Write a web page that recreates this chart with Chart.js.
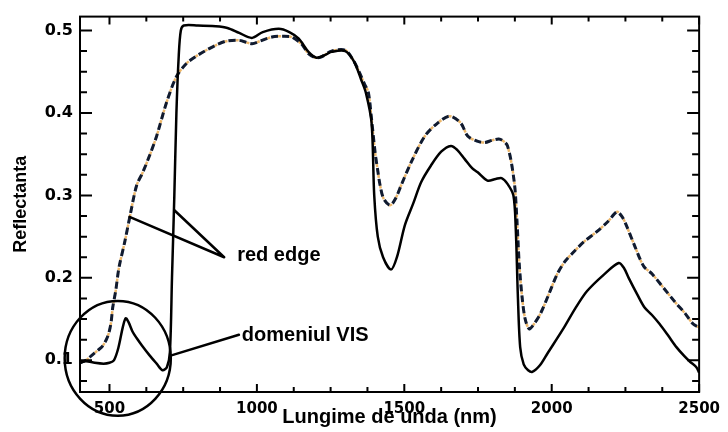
<!DOCTYPE html>
<html>
<head>
<meta charset="utf-8">
<script src="https://cdn.jsdelivr.net/npm/chart.js@4.4.0/dist/chart.umd.min.js"></script>
<style>
  html, body { margin: 0; padding: 0; background: #fff; }
  #wrap { width: 728px; height: 432px; }
</style>
</head>
<body>
<div id="wrap"><canvas id="chart" width="728" height="432"></canvas></div>
<script>
// solid curve: wavelength (nm) and reflectance
const solidNm = [400, 420, 450, 480, 500, 515, 530, 545, 555, 565, 578, 592, 610, 636, 660, 680, 695, 705,
    712, 720, 727, 735, 742, 752, 800, 860, 900, 940, 983, 1020, 1074, 1110, 1142, 1175, 1202, 1230, 1253,
    1300, 1330, 1354, 1370, 1389, 1398, 1410, 1428, 1455, 1475, 1502, 1530, 1557, 1590, 1625, 1658, 1680,
    1705, 1730, 1749, 1782, 1810, 1830, 1850, 1870, 1878, 1885, 1893, 1905, 1920, 1934, 1960, 1985, 2042,
    2080, 2120, 2177, 2227, 2245, 2261, 2290, 2315, 2340, 2366, 2395, 2423, 2450, 2470, 2490, 2500]
const solidRefl = [0.097, 0.099, 0.097, 0.096, 0.097, 0.100, 0.115, 0.140, 0.151, 0.146, 0.135, 0.127, 0.118,
    0.106, 0.096, 0.088, 0.092, 0.110, 0.200, 0.300, 0.400, 0.470, 0.500, 0.506, 0.506, 0.505, 0.503, 0.497,
    0.491, 0.498, 0.502, 0.498, 0.490, 0.474, 0.467, 0.470, 0.474, 0.475, 0.462, 0.440, 0.424, 0.388, 0.300,
    0.250, 0.225, 0.210, 0.225, 0.264, 0.290, 0.316, 0.336, 0.353, 0.360, 0.355, 0.344, 0.333, 0.328, 0.318,
    0.320, 0.321, 0.314, 0.300, 0.260, 0.180, 0.116, 0.095, 0.088, 0.086, 0.094, 0.108, 0.140, 0.163, 0.184,
    0.204, 0.218, 0.212, 0.200, 0.180, 0.164, 0.155, 0.144, 0.130, 0.116, 0.105, 0.098, 0.092, 0.085]

// dashed curve
const dashNm = [400, 420, 440, 460, 478, 495, 505, 511, 521, 532, 552, 569, 592, 613, 640, 660, 693, 727, 761,
    795, 828, 860, 896, 940, 983, 1010, 1051, 1090, 1118, 1150, 1175, 1200, 1219, 1253, 1300, 1325, 1344,
    1365, 1378, 1389, 1401, 1410, 1418, 1430, 1452, 1470, 1489, 1523, 1570, 1614, 1654, 1691, 1715, 1745,
    1772, 1800, 1826, 1850, 1873, 1882, 1890, 1900, 1910, 1924, 1940, 1961, 1990, 2018, 2045, 2076, 2110,
    2153, 2190, 2221, 2235, 2248, 2280, 2312, 2340, 2379, 2420, 2450, 2480, 2500]
const dashRefl = [0.097, 0.100, 0.106, 0.112, 0.118, 0.130, 0.145, 0.164, 0.184, 0.212, 0.244, 0.274, 0.312,
    0.328, 0.352, 0.372, 0.412, 0.444, 0.460, 0.469, 0.476, 0.482, 0.487, 0.488, 0.484, 0.487, 0.492, 0.493,
    0.492, 0.484, 0.472, 0.467, 0.468, 0.475, 0.476, 0.465, 0.452, 0.435, 0.425, 0.392, 0.352, 0.330, 0.312,
    0.296, 0.288, 0.296, 0.312, 0.340, 0.372, 0.388, 0.396, 0.388, 0.372, 0.366, 0.364, 0.367, 0.368, 0.360,
    0.316, 0.270, 0.216, 0.175, 0.150, 0.138, 0.144, 0.156, 0.180, 0.204, 0.220, 0.232, 0.244, 0.256, 0.268,
    0.280, 0.276, 0.268, 0.240, 0.214, 0.205, 0.188, 0.170, 0.158, 0.144, 0.140]

const xTickValues = [500, 1000, 1500, 2000, 2500]
const yTickValues = [0.1, 0.2, 0.3, 0.4, 0.5]
const xMinorStep = 125
const yMinorStep = 0.025

const xTitle = "Lungime de unda (nm)"
const yTitle = "Reflectanta"

// callouts, all in data units (nm, reflectance)
const redEdgeText = "red edge"
const redEdgeTextAt = [933, 0.227]
const redEdgeJoin = [889, 0.225]
const redEdgeTargets = [[568, 0.274], [720, 0.282]]
const visText = "domeniul VIS"
const visTextAt = [949, 0.130]
const visLine = [[710, 0.106], [939, 0.131]]
const visCircle = { x: 528, y: 0.1024, rx: 180, ry: 0.0696 }

const toPoints = (xs, ys) => xs.map((x, i) => ({ x: x, y: ys[i] }))

const frameTicks = {
    id: "frameTicks",
    afterDatasetsDraw(chart) {
        const { ctx, chartArea: a, scales } = chart
        const x = scales.x
        const y = scales.y
        ctx.save()
        ctx.strokeStyle = "#000"
        ctx.lineWidth = 2
        ctx.strokeRect(a.left, a.top, a.right - a.left, a.bottom - a.top)
        ctx.beginPath()
        for (let v = Math.ceil(x.min / xMinorStep) * xMinorStep; v <= x.max + 1e-6; v += xMinorStep) {
            const px = x.getPixelForValue(v)
            const len = v % 500 === 0 ? 8 : 5
            ctx.moveTo(px, a.bottom)
            ctx.lineTo(px, a.bottom - len)
            ctx.moveTo(px, a.top)
            ctx.lineTo(px, a.top + len)
        }
        for (let k = Math.ceil(y.min / yMinorStep - 1e-6); k * yMinorStep <= y.max + 1e-6; k++) {
            const py = y.getPixelForValue(k * yMinorStep)
            const len = k % 4 === 0 ? 12 : 7
            ctx.moveTo(a.left, py)
            ctx.lineTo(a.left + len, py)
            ctx.moveTo(a.right, py)
            ctx.lineTo(a.right - len, py)
        }
        ctx.stroke()
        ctx.restore()
    },
}

const callouts = {
    id: "callouts",
    afterDraw(chart) {
        const { ctx, scales } = chart
        const px = (p) => [scales.x.getPixelForValue(p[0]), scales.y.getPixelForValue(p[1])]
        ctx.save()
        ctx.strokeStyle = "#000"
        ctx.fillStyle = "#000"
        ctx.lineWidth = 2.5
        ctx.lineCap = "round"

        const join = px(redEdgeJoin)
        ctx.beginPath()
        redEdgeTargets.forEach((t) => {
            const p = px(t)
            ctx.moveTo(join[0], join[1])
            ctx.lineTo(p[0], p[1])
        })
        const v0 = px(visLine[0])
        const v1 = px(visLine[1])
        ctx.moveTo(v0[0], v0[1])
        ctx.lineTo(v1[0], v1[1])
        ctx.stroke()

        const c = px([visCircle.x, visCircle.y])
        const rx = Math.abs(scales.x.getPixelForValue(visCircle.x + visCircle.rx) - c[0])
        const ry = Math.abs(scales.y.getPixelForValue(visCircle.y + visCircle.ry) - c[1])
        ctx.beginPath()
        ctx.ellipse(c[0], c[1], rx, ry, 0, 0, Math.PI * 2)
        ctx.stroke()

        ctx.font = "bold 20px 'Liberation Sans', Arial, sans-serif"
        ctx.textBaseline = "middle"
        ctx.textAlign = "left"
        const r = px(redEdgeTextAt)
        ctx.fillText(redEdgeText, r[0], r[1])
        const t = px(visTextAt)
        ctx.fillText(visText, t[0], t[1])
        ctx.restore()
    },
}

const tickFont = { family: "'DejaVu Sans', sans-serif", weight: "bold", size: 15 }

new Chart(document.getElementById("chart"), {
    type: "line",
    data: {
        datasets: [
            {
                label: "solid",
                data: toPoints(solidNm, solidRefl),
                borderColor: "#000",
                borderWidth: 2.5,
                pointRadius: 0,
                tension: 0.3,
                order: 0,
            },
            {
                label: "dashed",
                data: toPoints(dashNm, dashRefl),
                borderColor: "#111a2e",
                borderWidth: 3,
                borderDash: [7, 4],
                pointRadius: 0,
                tension: 0.3,
                order: 1,
            },
            {
                // faint coloured trace showing in the gaps of the dashes
                label: "dashed tint",
                data: toPoints(dashNm, dashRefl),
                borderColor: "rgba(120, 190, 230, 0.9)",
                borderWidth: 2.5,
                borderDash: [3, 8],
                borderDashOffset: 10,
                pointRadius: 0,
                tension: 0.3,
                order: 2,
            },
            {
                label: "dashed tint 2",
                data: toPoints(dashNm, dashRefl),
                borderColor: "rgba(235, 175, 90, 0.9)",
                borderWidth: 2.5,
                borderDash: [3, 8],
                borderDashOffset: 4,
                pointRadius: 0,
                tension: 0.3,
                order: 3,
            },
        ],
    },
    options: {
        responsive: false,
        animation: false,
        devicePixelRatio: 1,
        layout: { padding: { top: 13, right: 24, left: 0, bottom: 0 } },
        plugins: {
            legend: { display: false },
            tooltip: { enabled: false },
        },
        scales: {
            x: {
                type: "linear",
                min: 400,
                max: 2500,
                afterBuildTicks: (s) => {
                    s.ticks = xTickValues.map((v) => ({ value: v }))
                },
                afterFit: (s) => {
                    s.height = 40
                },
                grid: { display: false, drawTicks: false },
                border: { display: false },
                ticks: {
                    color: "#000",
                    font: tickFont,
                    padding: 8,
                    maxRotation: 0,
                    autoSkip: false,
                    callback: (v) => String(v),
                },
                title: {
                    display: true,
                    text: xTitle,
                    color: "#000",
                    font: { family: "'Liberation Sans', Arial, sans-serif", weight: "bold", size: 20 },
                    padding: { top: 0, bottom: 3 },
                },
            },
            y: {
                type: "linear",
                min: 0.0616,
                max: 0.5168,
                afterBuildTicks: (s) => {
                    s.ticks = yTickValues.map((v) => ({ value: v }))
                },
                afterFit: (s) => {
                    s.width = 80
                },
                grid: { display: false, drawTicks: false },
                border: { display: false },
                ticks: {
                    color: "#000",
                    font: { ...tickFont, size: 16 },
                    padding: 7,
                    callback: (v) => v.toFixed(1),
                },
                title: {
                    display: true,
                    text: yTitle,
                    color: "#000",
                    font: { family: "'Liberation Sans', Arial, sans-serif", weight: "bold", size: 18 },
                    padding: { top: 10, bottom: 0 },
                },
            },
        },
    },
    plugins: [frameTicks, callouts],
})
</script>
</body>
</html>
